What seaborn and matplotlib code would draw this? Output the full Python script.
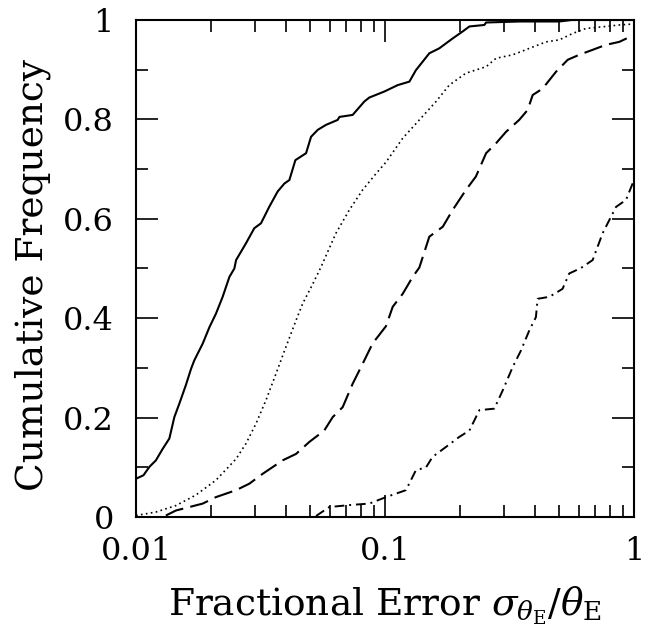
import numpy as np
import pandas as pd
import matplotlib
matplotlib.use("Agg")
import matplotlib.pyplot as plt
from matplotlib.ticker import FixedLocator, MultipleLocator, LogLocator, FuncFormatter, NullFormatter
import seaborn as sns

# Values (log10 of fractional error, cumulative frequency)
SOLID_LOGX = [-2.0, -1.97, -1.946, -1.92, -1.893, -1.866, -1.846, -1.826, -1.80, -1.779,
              -1.766, -1.732, -1.705, -1.679, -1.652, -1.625, -1.605, -1.598, -1.558,
              -1.525, -1.498, -1.465, -1.431, -1.404, -1.384, -1.360, -1.317, -1.297,
              -1.27, -1.237, -1.19, -1.183, -1.13, -1.083, -1.063, -1.003, -0.949,
              -0.902, -0.876, -0.849, -0.822, -0.782, -0.755, -0.728, -0.688, -0.661,
              -0.601, -0.594, -0.46, -0.30, -0.25, 0.0]
SOLID_Y = [0.077, 0.084, 0.101, 0.114, 0.137, 0.158, 0.201, 0.228, 0.265, 0.298,
           0.315, 0.349, 0.382, 0.409, 0.443, 0.483, 0.500, 0.517, 0.551,
           0.581, 0.591, 0.624, 0.655, 0.671, 0.678, 0.718, 0.732, 0.765,
           0.779, 0.789, 0.799, 0.805, 0.809, 0.836, 0.844, 0.856, 0.869,
           0.876, 0.899, 0.916, 0.933, 0.943, 0.953, 0.963, 0.977, 0.987,
           0.990, 0.995, 0.997, 0.997, 1.0, 1.0]

DOTTED_LOGX = [-2.0, -1.92, -1.84, -1.76, -1.679, -1.598, -1.558, -1.518, -1.478, -1.438,
               -1.398, -1.357, -1.331, -1.29, -1.257, -1.197, -1.143, -1.09, -1.036,
               -0.996, -0.929, -0.862, -0.795, -0.742, -0.675, -0.594, -0.554, -0.487,
               -0.42, -0.353, -0.30, -0.246, -0.193, -0.113, -0.059, 0.0]
DOTTED_Y = [0.003, 0.010, 0.023, 0.044, 0.074, 0.117, 0.148, 0.188, 0.235, 0.288,
            0.342, 0.396, 0.429, 0.469, 0.503, 0.571, 0.618, 0.658, 0.691,
            0.714, 0.762, 0.799, 0.836, 0.869, 0.893, 0.906, 0.923, 0.930,
            0.943, 0.956, 0.960, 0.973, 0.983, 0.987, 0.990, 0.992]

DASHED_LOGX = [-1.88, -1.84, -1.732, -1.679, -1.598, -1.545, -1.491, -1.411, -1.357, -1.304,
               -1.244, -1.21, -1.17, -1.13, -1.09, -1.05, -0.996, -0.969, -0.929,
               -0.889, -0.862, -0.822, -0.768, -0.728, -0.675, -0.635, -0.594, -0.554,
               -0.514, -0.461, -0.427, -0.407, -0.367, -0.313, -0.266, -0.22, -0.166,
               -0.113, -0.059, 0.0]
DASHED_Y = [0.003, 0.013, 0.027, 0.040, 0.054, 0.067, 0.087, 0.114, 0.127, 0.151,
            0.174, 0.201, 0.221, 0.268, 0.308, 0.349, 0.384, 0.423, 0.449,
            0.483, 0.502, 0.564, 0.584, 0.618, 0.658, 0.685, 0.732, 0.752,
            0.775, 0.799, 0.819, 0.849, 0.862, 0.896, 0.920, 0.930, 0.940,
            0.950, 0.956, 0.970]

DASHDOT_LOGX = [-1.277, -1.224, -1.143, -1.063, -0.996, -0.916, -0.876, -0.835, -0.809,
                -0.755, -0.702, -0.661, -0.621, -0.561, -0.527, -0.487, -0.454, -0.42,
                -0.394, -0.387, -0.34, -0.287, -0.26, -0.213, -0.166, -0.126, -0.072,
                -0.032, 0.0]
DASHDOT_Y = [0.002, 0.020, 0.024, 0.027, 0.040, 0.054, 0.094, 0.100, 0.121,
             0.141, 0.161, 0.174, 0.215, 0.218, 0.255, 0.302, 0.335, 0.376,
             0.402, 0.439, 0.443, 0.459, 0.490, 0.501, 0.517, 0.571, 0.624,
             0.638, 0.678]

X_TICKS = [0.01, 0.1, 1]
Y_TICKS = [0, 0.2, 0.4, 0.6, 0.8, 1]

sns.set_theme(style="ticks")
plt.rcParams["font.family"] = ["DejaVu Serif"]
plt.rcParams["mathtext.fontset"] = "dejavuserif"

fig = plt.figure(figsize=(6.48, 6.29), dpi=100)
ax = fig.add_axes([136 / 648, 1 - 517 / 629, 498 / 648, 497 / 629])

curves = [
    (SOLID_LOGX, SOLID_Y, "-", 1.5),
    (DOTTED_LOGX, DOTTED_Y, (0, (1, 2)), 1.2),
    (DASHED_LOGX, DASHED_Y, (0, (9, 3.5)), 1.5),
    (DASHDOT_LOGX, DASHDOT_Y, (0, (5, 2.5, 1, 2.5)), 1.4),
]
for logx, yv, ls, lw in curves:
    df = pd.DataFrame({"x": 10 ** np.asarray(logx), "y": yv})
    sns.lineplot(data=df, x="x", y="y", ax=ax, color="black", linestyle=ls,
                 linewidth=lw, sort=False, estimator=None)

ax.set_xscale("log")
ax.set_xlim(0.01, 1)
ax.set_ylim(0, 1)

ax.xaxis.set_major_locator(FixedLocator(X_TICKS))
ax.xaxis.set_minor_locator(LogLocator(base=10, subs=np.arange(2, 10)))
ax.xaxis.set_major_formatter(FuncFormatter(lambda v, _: f"{v:g}"))
ax.xaxis.set_minor_formatter(NullFormatter())
ax.yaxis.set_major_locator(FixedLocator(Y_TICKS))
ax.yaxis.set_minor_locator(MultipleLocator(0.1))
ax.yaxis.set_major_formatter(FuncFormatter(lambda v, _: f"{v:g}"))

ax.tick_params(which="both", direction="in", top=True, right=True, color="black",
               labelcolor="black")
ax.tick_params(which="major", length=16, width=1.2, labelsize=23)
ax.tick_params(which="minor", length=8.5, width=1.2)
ax.tick_params(axis="x", which="major", pad=14)
ax.tick_params(axis="y", which="major", pad=16)
for sp in ax.spines.values():
    sp.set_linewidth(1.5)
    sp.set_color("black")

ax.set_xlabel(r"Fractional Error $\sigma_{\theta_{\mathrm{E}}}/\theta_{\mathrm{E}}$",
              fontsize=27, color="black")
ax.set_ylabel("Cumulative Frequency", fontsize=27, color="black")
ax.xaxis.set_label_coords(0.5, -0.135)
ax.yaxis.set_label_coords(-0.17, 0.487)

fig.savefig("out.png", dpi=100)
